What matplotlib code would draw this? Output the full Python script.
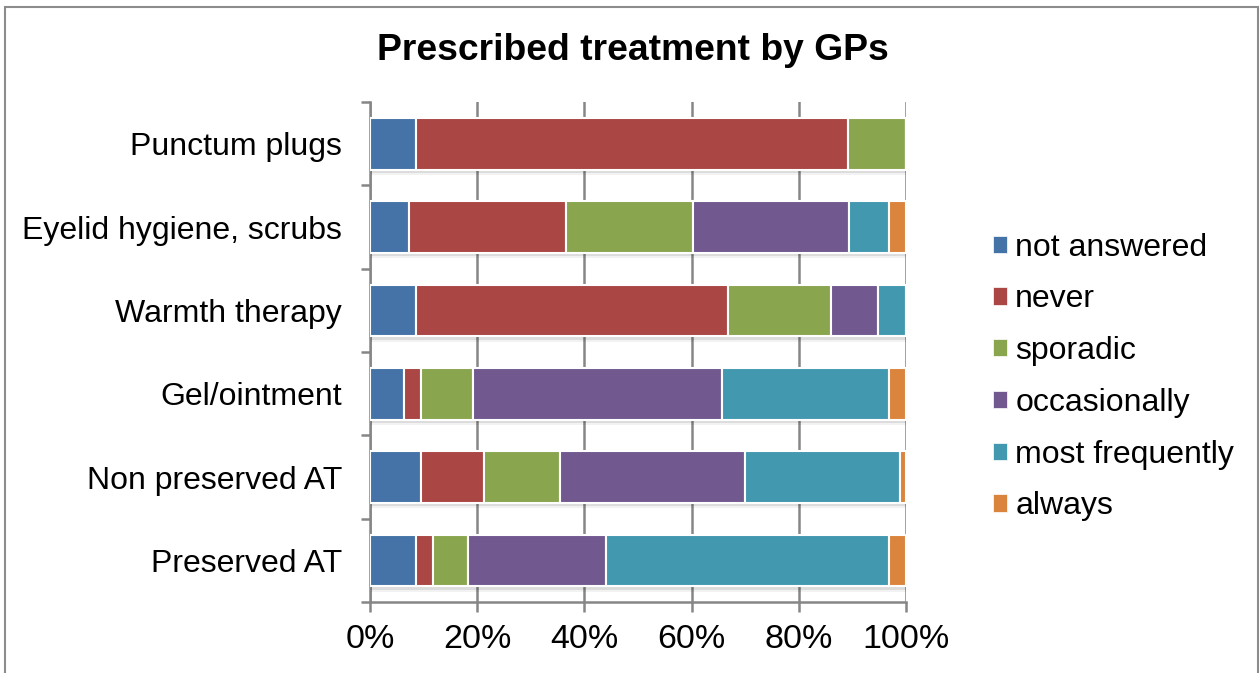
import matplotlib
matplotlib.use("Agg")
import matplotlib.pyplot as plt
import matplotlib.patheffects as pe
from matplotlib.patches import Patch, Rectangle
import numpy as np

plt.rcParams['font.family'] = ['Liberation Sans', 'DejaVu Sans']

categories = ["Punctum plugs", "Eyelid hygiene, scrubs", "Warmth therapy",
              "Gel/ointment", "Non preserved AT", "Preserved AT"]
series_names = ["not answered", "never", "sporadic", "occasionally",
                "most frequently", "always"]
not_answered = [8.5, 7.3, 8.5, 6.3, 9.6, 8.5]
never = [80.7, 29.2, 58.2, 3.2, 11.7, 3.2]
sporadic = [10.8, 23.7, 19.4, 9.8, 14.1, 6.5]
occasionally = [0.0, 29.1, 8.6, 46.4, 34.5, 25.9]
most_frequently = [0.0, 7.6, 5.3, 31.2, 29.0, 52.8]
always = [0.0, 3.1, 0.0, 3.1, 1.1, 3.1]
xtick_labels = ["0%", "20%", "40%", "60%", "80%", "100%"]

colors = ["#4572A7", "#AA4643", "#89A54E", "#71588F", "#4198AF", "#DB843D"]
series = [not_answered, never, sporadic, occasionally, most_frequently, always]

fig = plt.figure(figsize=(12.6, 6.73), dpi=100)
ax = fig.add_axes([370 / 1260, 1 - 602 / 673, 536 / 1260, 500 / 673])

# outer chart frame
fig.patches.append(Rectangle((5 / 1260, -0.05), 1253 / 1260, 1.05 - 7 / 673,
                             transform=fig.transFigure, fill=False,
                             edgecolor="#8c8c8c", linewidth=1.5, zorder=0))

grey = "#868686"
ax.set_xlim(0, 100)
ax.set_ylim(len(categories) - 0.5, -0.5)
ax.set_xticks(np.arange(0, 101, 20))
ax.set_xticklabels(xtick_labels, fontsize=24.5)
ax.xaxis.grid(True, color=grey, linewidth=1.8)
ax.set_axisbelow(True)

y = np.arange(len(categories))
left = np.zeros(len(categories))
# soft drop shadow beneath each bar segment
shadow = [pe.SimplePatchShadow(offset=(1, -2.5), shadow_rgbFace="#000000", alpha=0.09),
          pe.SimplePatchShadow(offset=(1, -4), shadow_rgbFace="#000000", alpha=0.05),
          pe.Normal()]
for name, vals, col in zip(series_names, series, colors):
    vals = np.array(vals)
    bars = ax.barh(y, vals, left=left, height=0.62, color=col,
                   edgecolor="white", linewidth=1.5, label=name, zorder=3)
    for b in bars:
        b.set_path_effects(shadow)
    left += vals

ax.set_yticks(y)
ax.set_yticklabels(categories, fontsize=23)
ax.set_yticks(np.arange(-0.5, len(categories)), minor=True)
ax.tick_params(axis="y", which="major", length=0, pad=20)
ax.tick_params(axis="y", which="minor", length=6.5, width=1.8, color=grey, direction="out")
ax.tick_params(axis="x", which="major", length=7, width=1.8, color=grey,
               direction="out", pad=9)

for side in ["top", "right"]:
    ax.spines[side].set_visible(False)
for side in ["left", "bottom"]:
    ax.spines[side].set_color(grey)
    ax.spines[side].set_linewidth(1.8)

handles = [Patch(facecolor=c, edgecolor="white", linewidth=0.5) for c in colors]
fig.legend(handles, series_names, loc="center left",
           bbox_to_anchor=(980 / 1260, 1 - 377 / 673), frameon=False,
           fontsize=23, handlelength=0.45, handleheight=0.45,
           handletextpad=0.25, labelspacing=0.68, borderaxespad=0)

fig.text(0.502, 1 - 51 / 673, "Prescribed treatment by GPs", ha="center",
         va="center", fontsize=26.8, fontweight="bold")

fig.savefig("out.png", dpi=100)
